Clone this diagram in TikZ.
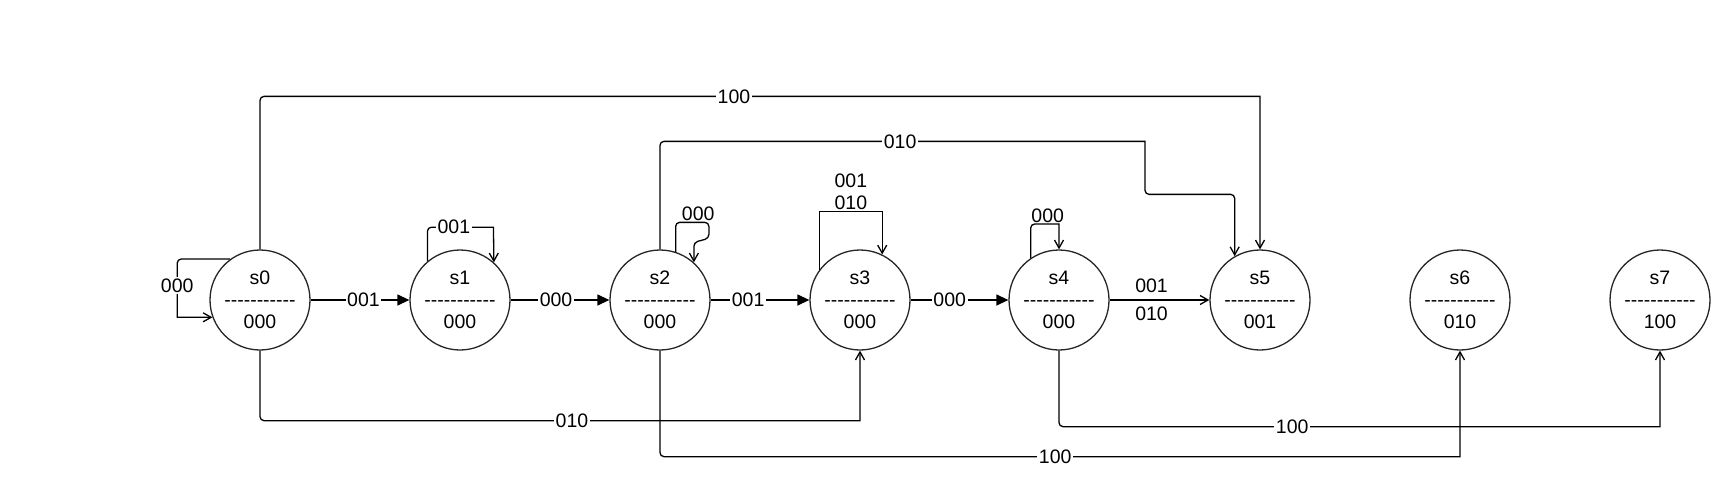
\documentclass[tikz,border=0pt]{standalone}
\usepackage{fontspec}
\setmainfont{Liberation Sans}
\usetikzlibrary{arrows.meta,calc}

\newcommand{\statebar}{-\kern0pt-\kern0pt-\kern0pt-\kern0pt-\kern0pt-\kern0pt-\kern0pt-\kern0pt-\kern0pt-\kern0pt-}

\begin{document}
\begin{tikzpicture}[x=1pt, y=-1pt, line width=1.3pt, font=\fontsize{19.5}{22}\selectfont]
        \tikzstyle{state}=[circle,draw=black!85,minimum size=100pt,inner sep=0pt,align=center]
        \tikzstyle{lbl}=[fill=white,inner sep=1.5pt]
        \tikzstyle{block arrow}=[-{Triangle[length=12pt,width=11pt]}]
        \tikzstyle{open arrow}=[-{Straight Barb[length=8pt,width=9pt]}]

        \useasboundingbox (0,0) rectangle (1736,491);

        \node[state] (s0) at (260,300)  {s0\\\statebar\\000};
        \node[state] (s1) at (460,300)  {s1\\\statebar\\000};
        \node[state] (s2) at (660,300)  {s2\\\statebar\\000};
        \node[state] (s3) at (860,300)  {s3\\\statebar\\000};
        \node[state] (s4) at (1059,300) {s4\\\statebar\\000};
        \node[state] (s5) at (1260,300) {s5\\\statebar\\001};
        \node[state] (s6) at (1460,300) {s6\\\statebar\\010};
        \node[state] (s7) at (1660,300) {s7\\\statebar\\100};

        % chain along the middle
        \draw[block arrow] (s0) -- node[lbl,pos=0.535] {001} (s1);
        \draw[block arrow] (s1) -- node[lbl,pos=0.46] {000} (s2);
        \draw[block arrow] (s2) -- node[lbl,pos=0.38] {001} (s3);
        \draw[block arrow] (s3) -- node[lbl,pos=0.4] {000} (s4);
        \draw[open arrow] (s4) -- node[above=5pt,inner sep=1.5pt,pos=0.42] {001} node[below=5pt,inner sep=1.5pt,pos=0.42] {010} (s5);

        % self loops
        \draw[open arrow] (s0.126) [rounded corners=4pt] -- ++(-53,0) [sharp corners] |- node[lbl,pos=0.23] {000} (s0.200);
        \draw[open arrow] (s1.130) [rounded corners=4pt] -- ++(0,-34) [sharp corners] -- node[lbl,pos=0.4] {001} ++(66,0) -- (s1.48);
        \draw[open arrow] (s2.72) [rounded corners=4pt] |- node[above,inner sep=1pt,pos=0.84] {000} ($(s2.48)+(15,-40)$) -- ++(0,16) -- ($(s2.48)+(0,-20)$) -- (s2.48);
        \draw[open arrow] (s3.143) |- node[above,inner sep=1.5pt,align=center,pos=0.75] {001\\010} ($(s3.64)+(0,-43)$) -- (s3.64);
        \draw[open arrow] (s4.124) [rounded corners=4pt] -- ++(0,-34) [sharp corners] -| node[above,inner sep=1pt,pos=0.3] {000} (s4.north);

        % long jumps above
        \draw[open arrow] (s0.north) [rounded corners=4pt] -- ++(0,-153) [sharp corners] -- node[lbl,pos=0.474] {100} ($(s5.north)+(0,-153)$) -- (s5.north);
        \draw[open arrow] (s2.north) [rounded corners=4pt] -- ++(0,-108) [sharp corners] -- node[lbl,pos=0.495] {010} ++(485,0) [rounded corners=4pt] -- ++(0,53) -| (s5.120);

        % long jumps below
        \draw[open arrow] (s0.south) [rounded corners=4pt] -- ++(0,70) [sharp corners] -- node[lbl,pos=0.52] {010} ($(s3.south)+(0,70)$) -- (s3.south);
        \draw[open arrow] (s2.south) [rounded corners=4pt] -- ++(0,106) [sharp corners] -- node[lbl,pos=0.494] {100} ($(s6.south)+(0,106)$) -- (s6.south);
        \draw[open arrow] (s4.south) [rounded corners=4pt] -- ++(0,76) [sharp corners] -- node[lbl,pos=0.388] {100} ($(s7.south)+(0,76)$) -- (s7.south);
\end{tikzpicture}
\end{document}
